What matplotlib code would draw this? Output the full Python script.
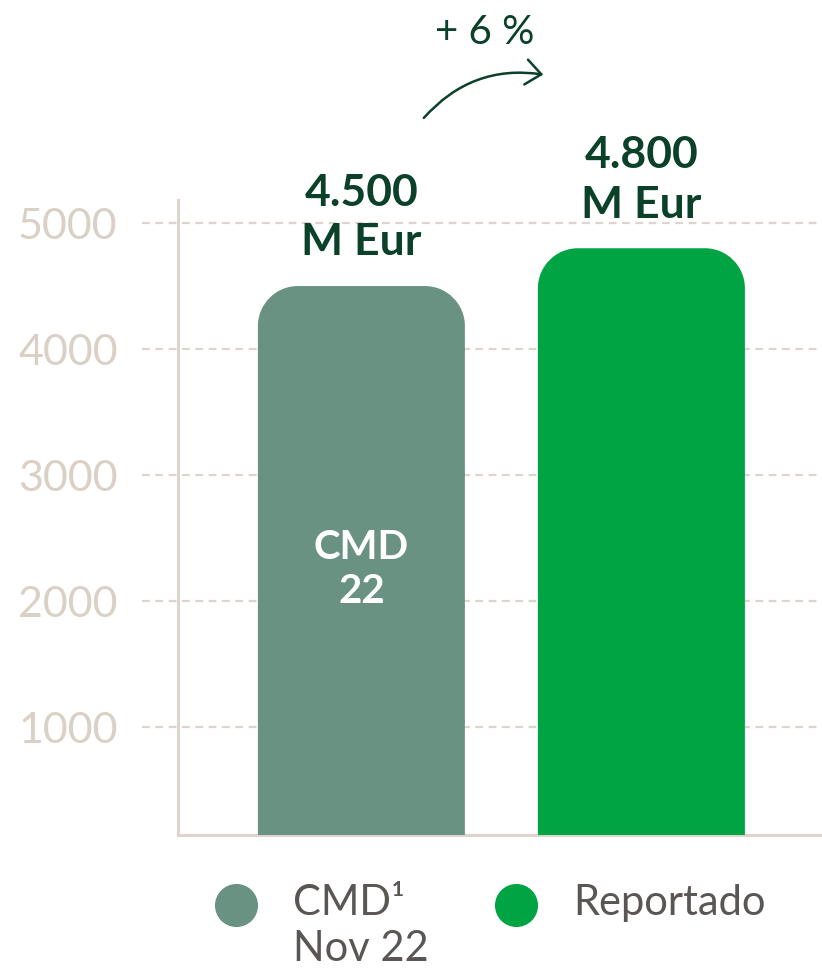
import matplotlib.pyplot as plt
from matplotlib.patches import PathPatch, FancyArrowPatch
from matplotlib.path import Path
from matplotlib.lines import Line2D
import matplotlib.transforms as mtransforms

plt.rcParams['font.family'] = ['Lato', 'DejaVu Sans']

categories = ['CMD¹\nNov 22', 'Reportado']
values = [4500, 4800]
bar_text = ['CMD\n22', '']
yticks = [1000, 2000, 3000, 4000, 5000]
change_label = '+ 6 %'

colors = ['#6a9282', '#00a443']
dark = '#0b4129'
grid_c = '#ddd5cc'
tick_c = '#d9d0c6'
legend_c = '#5a5654'

W, H = 822, 974
fig = plt.figure(figsize=(W / 100, H / 100), dpi=100)
ax = fig.add_axes([178 / W, 1 - 835 / H, 644 / W, 635 / H])

x = [0, 1]
ax.set_xlim(-0.655, 1.645)
ax.set_ylim(143, 5183)

# data units per pixel
px_x = 1 / 280.0
px_y = 1 / 0.126


def top_rounded_bar(xc, top, width, rx, ry, bottom=0):
    x0, x1 = xc - width / 2, xc + width / 2
    k = 0.5523
    verts = [(x0, bottom), (x0, top - ry),
             (x0, top - ry + k * ry), (x0 + rx - k * rx, top), (x0 + rx, top),
             (x1 - rx, top),
             (x1 - rx + k * rx, top), (x1, top - ry + k * ry), (x1, top - ry),
             (x1, bottom), (x0, bottom)]
    codes = [Path.MOVETO, Path.LINETO,
             Path.CURVE4, Path.CURVE4, Path.CURVE4,
             Path.LINETO,
             Path.CURVE4, Path.CURVE4, Path.CURVE4,
             Path.LINETO, Path.CLOSEPOLY]
    return Path(verts, codes)


bw = 207 * px_x
for xi, v, c in zip(x, values, colors):
    path = top_rounded_bar(xi, v, bw, 40 * px_x, 40 * px_y)
    ax.add_patch(PathPatch(path, fc=c, ec='none', zorder=3))

# value labels
for xi, v in zip(x, values):
    s = f'{v:,}'.replace(',', '.') + '\nM Eur'
    ax.annotate(s, (xi, v), xytext=(0, 17), textcoords='offset points',
                ha='center', va='bottom', fontsize=32, fontweight='bold',
                color=dark, linespacing=1.3, zorder=5)

for xi, t in zip(x, bar_text):
    if t:
        ax.text(xi, 2250, t, ha='center', va='center', fontsize=29,
                fontweight='bold', color='white', linespacing=1.25, zorder=5)

# grid lines extending left of the axis
trans = mtransforms.blended_transform_factory(ax.transAxes, ax.transData)
lab_trans = mtransforms.blended_transform_factory(fig.transFigure, ax.transData)
lab_trans = lab_trans + mtransforms.ScaledTranslation(0, -4 / 100, fig.dpi_scale_trans)
for yt in yticks:
    ax.plot([-36 / 644, 1], [yt, yt], transform=trans, color=grid_c, lw=1.6,
            linestyle=(0, (3.5, 2.5)), clip_on=False, zorder=1)
    fig.text(18 / W, yt, str(yt), transform=lab_trans, ha='left',
             va='center', fontsize=31, color=tick_c)

for s in ['top', 'right']:
    ax.spines[s].set_visible(False)
for s in ['left', 'bottom']:
    ax.spines[s].set_color(grid_c)
    ax.spines[s].set_linewidth(2.2)
ax.set_xticks([])
ax.set_yticks([])

# change annotation
fig.text(485 / W, 1 - 32 / H, change_label, ha='center', va='center',
         fontsize=29, color=dark)
arrow = FancyArrowPatch((422 / W, 1 - 120 / H), (546 / W, 1 - 75 / H),
                        transform=fig.transFigure,
                        connectionstyle='arc3,rad=-0.28',
                        arrowstyle='->,head_length=0.55,head_width=0.45',
                        mutation_scale=20, lw=1.8, color=dark)
fig.add_artist(arrow)

# legend
for cx, c, lab in zip([236, 516], colors, categories):
    fig.add_artist(Line2D([cx / W], [1 - 905 / H], marker='o', markersize=30,
                          color=c, linestyle='none', transform=fig.transFigure))
    fig.text((cx + 57) / W, 1 - 884 / H, lab, ha='left', va='top',
             fontsize=30, color=legend_c, linespacing=1.27)

fig.savefig('out.png', dpi=100)
